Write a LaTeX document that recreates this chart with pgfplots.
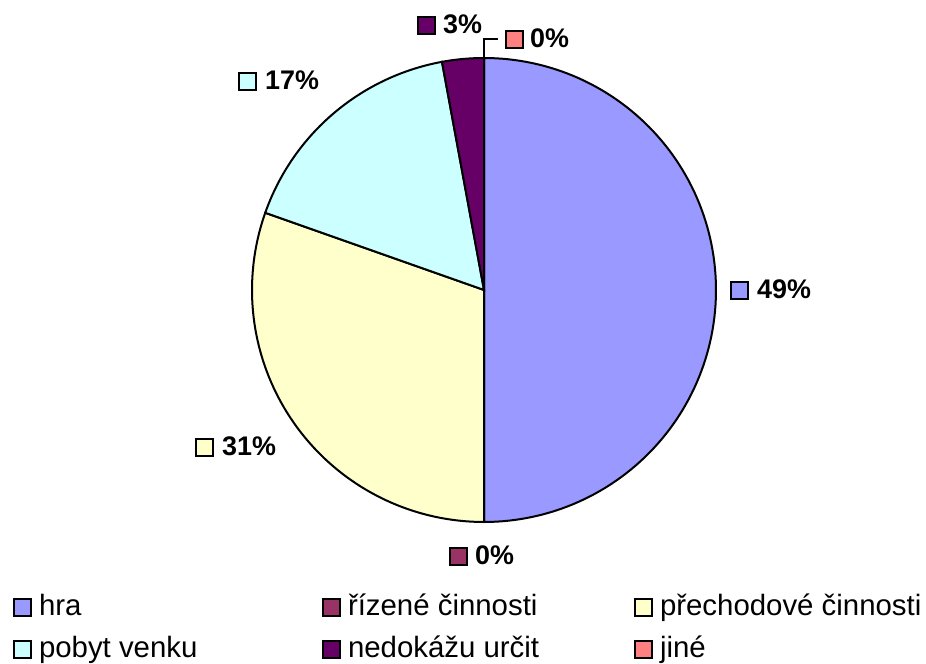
\documentclass[border=0pt]{standalone}
\usepackage{pgfplots}
\pgfplotsset{compat=1.18}
\usepackage{fontspec}
\setmainfont{Liberation Sans}
\definecolor{hraC}{HTML}{9999FF}
\definecolor{rizC}{HTML}{993366}
\definecolor{preC}{HTML}{FFFFCC}
\definecolor{pobC}{HTML}{CCFFFF}
\definecolor{nedC}{HTML}{660066}
\definecolor{jinC}{HTML}{FF8080}
\newcommand{\lbox}[1]{{\setlength\fboxsep{0pt}\setlength\fboxrule{2bp}\fcolorbox{black}{#1}{\rule{0pt}{15bp}\rule{15bp}{0pt}}}}
\newcommand{\labfont}{\fontsize{27}{31}\selectfont\bfseries}
\newcommand{\legfont}{\fontsize{29.5}{34}\selectfont}
% shares of the pie (percent)
\def\vHra{50}
\def\vRiz{0}
\def\vPre{30.4}
\def\vPob{16.7}
\def\vNed{2.9}
\def\vJin{0}
\pgfmathsetmacro\aA{90}
\pgfmathsetmacro\aB{\aA-3.6*\vHra}
\pgfmathsetmacro\aC{\aB-3.6*\vRiz}
\pgfmathsetmacro\aD{\aC-3.6*\vPre}
\pgfmathsetmacro\aE{\aD-3.6*\vPob}
\pgfmathsetmacro\aF{\aE-3.6*\vNed}
\begin{document}%
\begin{tikzpicture}
\begin{axis}[at={(0,0)}, anchor=south west,
  width=926bp, height=664bp, scale only axis,
  xmin=0, xmax=926, ymin=0, ymax=664,
  hide axis, clip=false,
  legend columns=3,
  legend image code/.code={\draw[#1, draw=black, line width=2bp] (1bp,-1bp) rectangle (18bp,16bp);},
  legend style={at={(axis cs:13,70)}, anchor=north west, draw=none, fill=none,
    inner sep=0pt, outer sep=0pt, font=\legfont, row sep=14bp,
    nodes={inner sep=0pt, outer sep=0pt, anchor=base west, text height=21bp, text depth=7bp},
    /tikz/every odd column/.style={column sep=7bp}},
  legend cell align=left,
]
\addplot[fill=hraC, draw=black, line width=2bp, domain=\aA:\aB, samples=120, variable=\t]
  ({484+232*cos(\t)},{374+232*sin(\t)}) -- (axis cs:484,374) -- cycle;
\addlegendentry{\makebox[283bp][l]{hra}}
\addlegendimage{fill=rizC}
\addlegendentry{\makebox[286bp][l]{řízené činnosti}}
\addplot[fill=preC, draw=black, line width=2bp, domain=\aC:\aD, samples=80, variable=\t]
  ({484+232*cos(\t)},{374+232*sin(\t)}) -- (axis cs:484,374) -- cycle;
\addlegendentry{přechodové činnosti}
\addplot[fill=pobC, draw=black, line width=2bp, domain=\aD:\aE, samples=60, variable=\t]
  ({484+232*cos(\t)},{374+232*sin(\t)}) -- (axis cs:484,374) -- cycle;
\addlegendentry{pobyt venku}
\addplot[fill=nedC, draw=black, line width=2bp, domain=\aE:\aF, samples=20, variable=\t]
  ({484+232*cos(\t)},{374+232*sin(\t)}) -- (axis cs:484,374) -- cycle;
\addlegendentry{nedokážu určit}
\addlegendimage{fill=jinC}
\addlegendentry{jiné}
% leader line for "jiné"
\addplot[black, line width=1.5bp, forget plot] coordinates {(484,606) (484,625) (498,625)};
% data labels
\node[anchor=west, inner sep=0pt, font=\labfont] at (axis cs:730,374) {\lbox{hraC}\hspace{8bp}49\%};
\node[anchor=west, inner sep=0pt, font=\labfont] at (axis cs:449,108) {\lbox{rizC}\hspace{7bp}0\%};
\node[anchor=west, inner sep=0pt, font=\labfont] at (axis cs:195,217) {\lbox{preC}\hspace{8bp}31\%};
\node[anchor=west, inner sep=0pt, font=\labfont] at (axis cs:238,583) {\lbox{pobC}\hspace{8bp}17\%};
\node[anchor=west, inner sep=0pt, font=\labfont] at (axis cs:417,639) {\lbox{nedC}\hspace{7bp}3\%};
\node[anchor=west, inner sep=0pt, font=\labfont] at (axis cs:505,625) {\lbox{jinC}\hspace{6bp}0\%};
\end{axis}
\pgfresetboundingbox
\path[use as bounding box] (0,0) rectangle (926bp,664bp);
\end{tikzpicture}%
\end{document}
